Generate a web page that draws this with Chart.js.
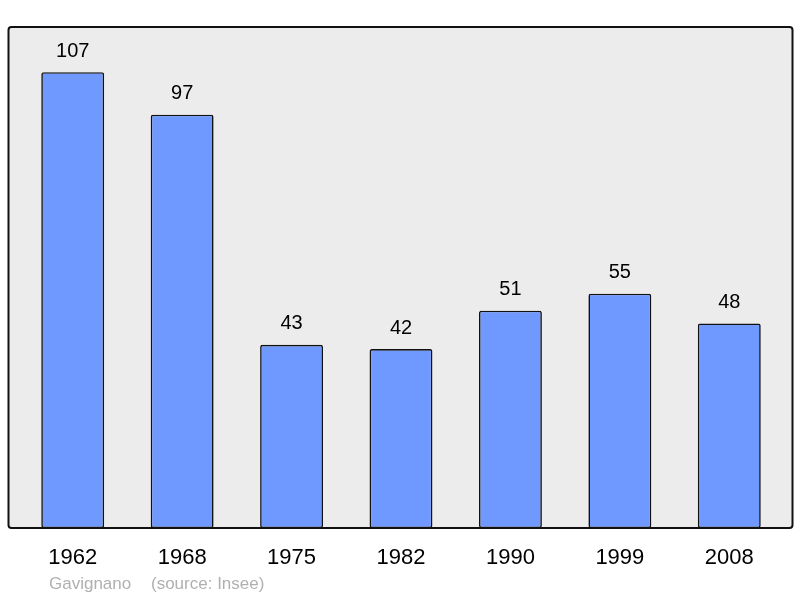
<!DOCTYPE html>
<html>
<head>
<meta charset="utf-8">
<script src="https://cdn.jsdelivr.net/npm/chart.js@4/dist/chart.umd.min.js"></script>
<style>
  html, body { margin: 0; padding: 0; background: #fff; }
  #wrap { width: 800px; height: 598px; position: relative; }
</style>
</head>
<body>
<div id="wrap"><canvas id="c"></canvas></div>
<script>
const years  = ['1962', '1968', '1975', '1982', '1990', '1999', '2008'];
const values = [107, 97, 43, 42, 51, 55, 48];
const sourceText = ['Gavignano', '(source: Insee)'];

const FONT = '"Liberation Sans", Arial, sans-serif';

// grey panel behind the bars, a bit wider than the chart area
const panel = {
  id: 'panel',
  beforeDraw(chart) {
    const { ctx, chartArea: a } = chart;
    const l = a.left - 9.5, r = a.right + 8.5, t = a.top, b = a.bottom;
    ctx.save();
    ctx.beginPath();
    ctx.roundRect(l, t, r - l, b - t, 3);
    ctx.fillStyle = '#ececec';
    ctx.fill();
    ctx.restore();
  },
  afterDatasetsDraw(chart) {
    const { ctx, chartArea: a } = chart;
    const l = a.left - 9.5, r = a.right + 8.5, t = a.top, b = a.bottom;
    ctx.save();
    ctx.beginPath();
    ctx.roundRect(l, t, r - l, b - t, 3);
    ctx.lineWidth = 2;
    ctx.strokeStyle = '#111';
    ctx.stroke();

    // value labels
    ctx.fillStyle = '#000';
    ctx.font = '20px ' + FONT;
    ctx.textAlign = 'center';
    ctx.textBaseline = 'middle';
    chart.getDatasetMeta(0).data.forEach((bar, i) => {
      ctx.fillText(String(values[i]), bar.x, bar.y - 21);
    });

    // source line
    ctx.fillStyle = '#b0b0b0';
    ctx.font = '17px ' + FONT;
    ctx.textAlign = 'left';
    ctx.fillText(sourceText[0], 49, 584);
    ctx.fillText(sourceText[1], 151, 584);
    ctx.restore();
  }
};

new Chart(document.getElementById('c'), {
  type: 'bar',
  data: {
    labels: years,
    datasets: [{
      data: values,
      backgroundColor: '#7099ff',
      borderColor: '#111',
      borderWidth: 1.6,
      borderRadius: 2,
      borderSkipped: false,
      barPercentage: 0.575,
      categoryPercentage: 1
    }]
  },
  options: {
    responsive: true,
    maintainAspectRatio: false,
    animation: false,
    devicePixelRatio: 1,
    layout: { padding: { left: 18, right: 16, top: 27, bottom: 0 } },
    plugins: {
      legend:  { display: false },
      tooltip: { enabled: false }
    },
    scales: {
      x: {
        grid:   { display: false, drawTicks: false },
        border: { display: false },
        ticks:  { color: '#000', padding: 17, font: { size: 22, family: FONT } },
        afterFit(scale) { scale.height = 70; }
      },
      y: {
        display: false,
        min: 0,
        max: 117.6
      }
    }
  },
  plugins: [panel]
});
</script>
</body>
</html>
